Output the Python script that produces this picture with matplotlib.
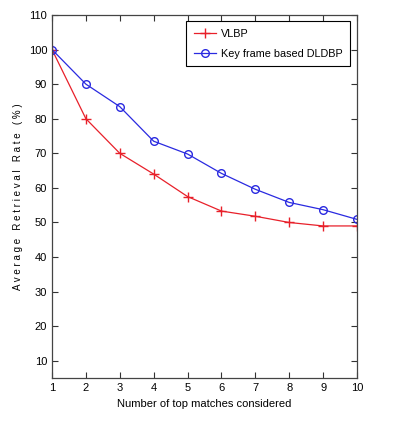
import numpy as np
import matplotlib.pyplot as plt

matches = [1, 2, 3, 4, 5, 6, 7, 8, 9, 10]
vlbp = [100, 80, 70, 64, 57.5, 53.3, 51.8, 50, 49, 49]
dldbp = [100, 90, 83.5, 73.5, 69.8, 64.2, 59.6, 55.8, 53.7, 50.9]

plt.rcParams['font.family'] = ['Liberation Sans', 'DejaVu Sans']

fig = plt.figure(figsize=(3.94, 4.22), dpi=100)
ax = fig.add_axes([0.132, 0.104, 0.774, 0.8605])

ax.plot(matches, vlbp, c="#e8202a", marker="+", markersize=7, lw=0.9, label="VLBP")
ax.plot(matches, dldbp, c="#2a2ae0", marker="o", markersize=5.5, mfc="none", lw=0.9,
        label="Key frame based DLDBP")

ax.set_xlim(1, 10)
ax.set_ylim(5, 110)
ax.set_xticks(matches)
ax.set_yticks(np.arange(10, 111, 10))
ax.tick_params(direction="in", labelsize=8, length=4, width=0.8, top=True, right=True,
               colors="#333333", labelcolor="black")
for s in ax.spines.values():
    s.set_linewidth(0.9)
    s.set_color("#444444")

ax.set_xlabel("Number of top matches considered", fontsize=8)
ax.set_ylabel("A v e r a g e   R e t r i e v a l   R a t e   ( % )", fontsize=7)

leg = ax.legend(loc="upper right", fontsize=7.8, fancybox=False, edgecolor="black",
                framealpha=1, borderaxespad=0.6, handlelength=2.0, handletextpad=0.5,
                labelspacing=0.9, borderpad=0.7)
leg.get_frame().set_linewidth(0.8)

fig.savefig("out.png", dpi=100)
